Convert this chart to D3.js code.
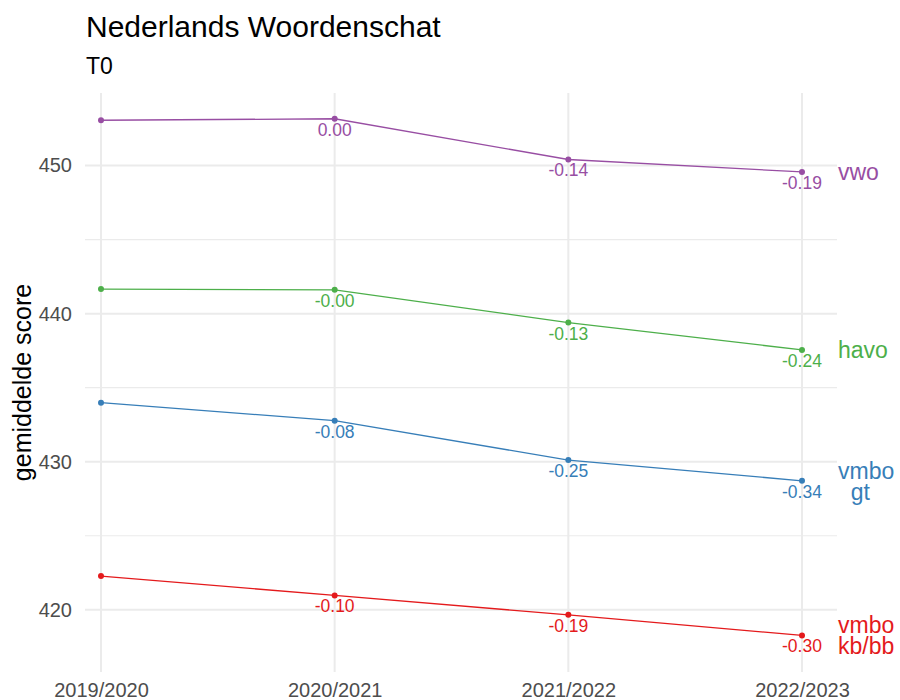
<!DOCTYPE html>
<html>
<head>
<meta charset="utf-8">
<script src="https://cdn.jsdelivr.net/npm/d3@7"></script>
<style>
  body { margin: 0; background: #fff; }
  svg { display: block; font-family: "Liberation Sans", Arial, sans-serif; }
</style>
</head>
<body>
<svg id="chart" width="900" height="700"></svg>
<script>
// schooljaren en gemiddelde scores per niveau
const years = ["2019/2020", "2020/2021", "2021/2022", "2022/2023"];
const vwo    = [453.06, 453.16, 450.41, 449.57];
const havo   = [441.66, 441.61, 439.40, 437.55];
const vmboGt = [433.99, 432.77, 430.11, 428.71];
const vmboKb = [422.28, 420.97, 419.66, 418.27];

// effectgroottes onder de punten
const vwoLab    = ["", "0.00", "-0.14", "-0.19"];
const havoLab   = ["", "-0.00", "-0.13", "-0.24"];
const vmboGtLab = ["", "-0.08", "-0.25", "-0.34"];
const vmboKbLab = ["", "-0.10", "-0.19", "-0.30"];

const yTicks = [420, 430, 440, 450];
const yMinor = [425, 435, 445];

const series = [
  { name: ["vwo"], values: vwo, labels: vwoLab, color: "#984EA3" },
  { name: ["havo"], values: havo, labels: havoLab, color: "#4DAF4A" },
  { name: ["vmbo", "  gt"], values: vmboGt, labels: vmboGtLab, color: "#377EB8" },
  { name: ["vmbo", "kb/bb"], values: vmboKb, labels: vmboKbLab, color: "#E41A1C" }
];

const svg = d3.select("#chart");
const panel = { left: 85, right: 837, top: 93, bottom: 672 };

const x = d3.scalePoint().domain(years).range([101, 802]);
const y = d3.scaleLinear().domain([415.8, 454.9]).range([panel.bottom, panel.top]);

// raster
const grid = svg.append("g");
grid.selectAll(".minor").data(yMinor).join("line")
  .attr("x1", panel.left).attr("x2", panel.right)
  .attr("y1", d => y(d)).attr("y2", d => y(d))
  .attr("stroke", "#EBEBEB").attr("stroke-width", 1.2);
grid.selectAll(".major").data(yTicks).join("line")
  .attr("x1", panel.left).attr("x2", panel.right)
  .attr("y1", d => y(d)).attr("y2", d => y(d))
  .attr("stroke", "#EBEBEB").attr("stroke-width", 2);
grid.selectAll(".vert").data(years).join("line")
  .attr("x1", d => x(d)).attr("x2", d => x(d))
  .attr("y1", panel.top).attr("y2", panel.bottom)
  .attr("stroke", "#EBEBEB").attr("stroke-width", 2);

// assen
const yAxis = svg.append("g")
  .attr("transform", `translate(${panel.left},0)`)
  .call(d3.axisLeft(y).tickValues(yTicks).tickSize(0).tickPadding(13));
const xAxis = svg.append("g")
  .attr("transform", `translate(0,${panel.bottom})`)
  .call(d3.axisBottom(x).tickSize(0).tickPadding(11));
[yAxis, xAxis].forEach(a => {
  a.select(".domain").remove();
  a.selectAll("text").attr("fill", "#4D4D4D").style("font-size", "20px")
    .style("font-family", "'Liberation Sans', Arial, sans-serif");
});

const line = d3.line().x((d, i) => x(years[i])).y(d => y(d));

series.forEach(s => {
  const g = svg.append("g");
  g.append("path").datum(s.values)
    .attr("d", line).attr("fill", "none")
    .attr("stroke", s.color).attr("stroke-width", 1.3);
  g.selectAll("circle").data(s.values).join("circle")
    .attr("cx", (d, i) => x(years[i])).attr("cy", d => y(d))
    .attr("r", 3).attr("fill", s.color);
  g.selectAll(".lab").data(s.values).join("text")
    .attr("x", (d, i) => x(years[i])).attr("y", d => y(d) + 17)
    .attr("text-anchor", "middle").attr("fill", s.color)
    .style("font-size", "17.5px")
    .text((d, i) => s.labels[i]);
  // naam rechts van de lijn
  const last = y(s.values[s.values.length - 1]);
  const n = s.name.length;
  const lh = 21;
  const name = g.append("text")
    .attr("fill", s.color).style("font-size", "23px")
    .style("white-space", "pre");
  s.name.forEach((t, i) => {
    name.append("tspan")
      .attr("x", 838)
      .attr("y", last + 8.4 + (i - (n - 1) / 2) * lh)
      .text(t);
  });
});

// titels
svg.append("text").attr("x", 86).attr("y", 37)
  .style("font-size", "30px").attr("fill", "#000")
  .text("Nederlands Woordenschat");
svg.append("text").attr("x", 86).attr("y", 74)
  .style("font-size", "23px").attr("fill", "#000")
  .text("T0");
svg.append("text")
  .attr("transform", `translate(31,${(panel.top + panel.bottom) / 2}) rotate(-90)`)
  .attr("text-anchor", "middle")
  .style("font-size", "25px").attr("fill", "#000")
  .text("gemiddelde score");
</script>
</body>
</html>
